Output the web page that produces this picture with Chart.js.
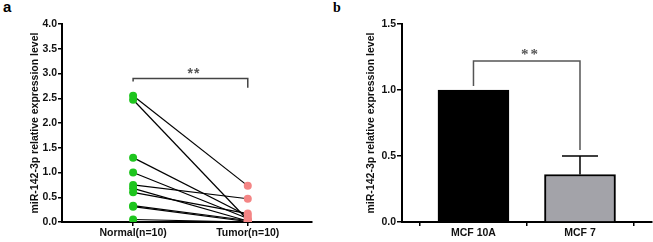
<!DOCTYPE html>
<html><head><meta charset="utf-8">
<script src="https://cdn.jsdelivr.net/npm/chart.js@4"></script>
<style>
body{margin:0;background:#fff;width:653px;height:242px;position:relative;overflow:hidden}
canvas{position:absolute;top:0}
#ca{left:0}
#cb{left:326px}
.lab{position:absolute;color:#000}
</style></head><body>
<div class="lab" style="left:3px;top:-1px;font:bold 15px/15px 'Liberation Sans',Arial,sans-serif">a</div>
<div class="lab" style="left:333px;top:1px;font:bold 14px/14px 'Liberation Serif','Times New Roman',serif">b</div>
<canvas id="ca" width="326" height="242"></canvas>
<canvas id="cb" width="327" height="242"></canvas>
<script>
// ---------- data: panel a ----------
const groupLabels = ["Normal(n=10)", "Tumor(n=10)"];
const normalVals = [2.55, 2.47, 1.30, 1.00, 0.75, 0.68, 0.60, 0.33, 0.31, 0.05];
const tumorVals  = [0.73, 0.04, 0.12, 0.07, 0.47, 0.02, 0.17, 0.03, 0.01, 0.00];
const yTitle = "miR-142-3p relative expression level";
const bracketA = [2.84, 2.90, 2.90, 2.71];   // y at Normal, Normal, Tumor, Tumor
const sigTextA = "**";
const sigPosA = [1.53, 3.07];

// ---------- data: panel b ----------
const categories = ["MCF 10A", "MCF 7"];
const barVals = [1.00, 0.36];
const errUpper = [0, 0.14];
const bracketB = [1.03, 1.22, 1.22, 0.545];
const sigTextB = "**";
const sigPosB = [0.535, 1.30];

const FONT = "'Liberation Sans', Arial, sans-serif";
Chart.defaults.font.family = FONT;
Chart.defaults.font.size = 10.5;
Chart.defaults.font.weight = 'bold';
Chart.defaults.color = '#111';
Chart.defaults.animation = false;

const sigPlugin = {
  id: 'sig',
  afterDatasetsDraw(chart, args, opts) {
    const {ctx, scales} = chart;
    const x = scales.x.getPixelForValue(opts.pos[0]);
    const y = scales.y.getPixelForValue(opts.pos[1]);
    ctx.save();
    ctx.font = opts.font;
    ctx.fillStyle = opts.color;
    ctx.textAlign = 'center';
    ctx.textBaseline = 'alphabetic';
    try { ctx.letterSpacing = opts.spacing; } catch(e) {}
    ctx.fillText(opts.text, x, y + opts.size * 0.55);
    ctx.restore();
  }
};

const errPlugin = {
  id: 'errbars',
  afterDatasetsDraw(chart) {
    const {ctx, scales} = chart;
    const meta = chart.getDatasetMeta(0);
    ctx.save();
    ctx.strokeStyle = '#000';
    ctx.lineWidth = 1.5;
    meta.data.forEach((el, i) => {
      const e = errUpper[i];
      if (!e) return;
      const yTop = scales.y.getPixelForValue(barVals[i] + e);
      ctx.beginPath();
      ctx.moveTo(el.x, el.y);
      ctx.lineTo(el.x, yTop);
      ctx.moveTo(el.x - 18, yTop);
      ctx.lineTo(el.x + 18, yTop);
      ctx.stroke();
    });
    ctx.restore();
  }
};

function axisGrid() {
  return {display: true, drawOnChartArea: false, drawTicks: true, tickLength: 4, color: '#000', lineWidth: 1.5};
}

// ---------- chart a ----------
const pairSets = normalVals.map((n, i) => ({
  type: 'scatter', showLine: true,
  data: [{x: 1, y: n}, {x: 2, y: tumorVals[i]}],
  borderColor: '#000', borderWidth: 1.2, pointRadius: 0, order: 2
}));
new Chart(document.getElementById('ca'), {
  type: 'scatter',
  data: {
    datasets: [
      ...pairSets,
      {type: 'scatter', showLine: true, data: [{x:1,y:bracketA[0]},{x:1,y:bracketA[1]},{x:2,y:bracketA[2]},{x:2,y:bracketA[3]}],
       borderColor: '#444', borderWidth: 1.5, pointRadius: 0, order: 3},
      {type: 'scatter', data: normalVals.map(v => ({x: 1, y: v})), backgroundColor: '#1ec51e', borderWidth: 0, pointRadius: 4, order: 0},
      {type: 'scatter', data: tumorVals.map(v => ({x: 2, y: v})), backgroundColor: '#f48585', borderWidth: 0, pointRadius: 4, order: 1}
    ]
  },
  options: {
    responsive: false,
    layout: {padding: {left: 0, top: 24, right: 14, bottom: 0}},
    plugins: {legend: {display: false}, tooltip: {enabled: false},
      sig: {text: sigTextA, pos: sigPosA, font: "bold 14px " + FONT, size: 14, color: '#555', spacing: '1px'}},
    scales: {
      x: {type: 'linear', min: 0.38, max: 2.56,
        afterBuildTicks: s => { s.ticks = [{value: 1}, {value: 2}]; },
        afterFit: s => { s.height = 20; },
        ticks: {callback: v => groupLabels[v - 1], padding: 1, maxRotation: 0, autoSkip: false, color: '#111'},
        grid: axisGrid(), border: {display: true, color: '#000', width: 2}},
      y: {min: 0, max: 4,
        afterFit: s => { s.width = 62; },
        ticks: {stepSize: 0.5, callback: v => v.toFixed(1), padding: 1, color: '#111'},
        grid: axisGrid(), border: {display: true, color: '#000', width: 2},
        title: {display: true, text: yTitle, color: '#111', font: {size: 10.5, weight: 'bold'}, padding: {top: 29, bottom: 0}}}
    }
  },
  plugins: [sigPlugin]
});

// ---------- chart b ----------
new Chart(document.getElementById('cb'), {
  type: 'bar',
  data: {
    datasets: [
      {type: 'bar', data: barVals.map((v, i) => ({x: i, y: v})), backgroundColor: ['#000000', '#a3a3a9'],
       borderColor: '#000', borderWidth: 2, barThickness: 71, order: 1},
      {type: 'line', data: [{x:0,y:bracketB[0]},{x:0,y:bracketB[1]},{x:1,y:bracketB[2]},{x:1,y:bracketB[3]}],
       borderColor: '#555', borderWidth: 1.5, pointRadius: 0, tension: 0, order: 0}
    ]
  },
  options: {
    responsive: false,
    layout: {padding: {left: 0, top: 24, right: 1, bottom: 0}},
    plugins: {legend: {display: false}, tooltip: {enabled: false},
      sig: {text: sigTextB, pos: sigPosB, font: "bold 15px 'Liberation Serif', 'Times New Roman', serif", size: 15, color: '#555', spacing: '2px'}},
    scales: {
      x: {type: 'linear', min: -0.671, max: 1.676, offset: false,
        afterBuildTicks: s => { s.ticks = [{value: 0}, {value: 1}]; },
        afterFit: s => { s.height = 20; },
        ticks: {callback: v => categories[v], padding: 1, maxRotation: 0, autoSkip: false, color: '#111'},
        grid: axisGrid(), border: {display: true, color: '#000', width: 2}},
      y: {min: 0, max: 1.5,
        afterFit: s => { s.width = 76; },
        ticks: {stepSize: 0.5, callback: v => v.toFixed(1), padding: 1, color: '#111'},
        grid: Object.assign(axisGrid(), {tickLength: 5}), border: {display: true, color: '#000', width: 2},
        title: {display: true, text: yTitle, color: '#111', font: {size: 10.5, weight: 'bold'}, padding: {top: 39, bottom: 0}}}
    }
  },
  plugins: [sigPlugin, errPlugin]
});
</script>
</body></html>
